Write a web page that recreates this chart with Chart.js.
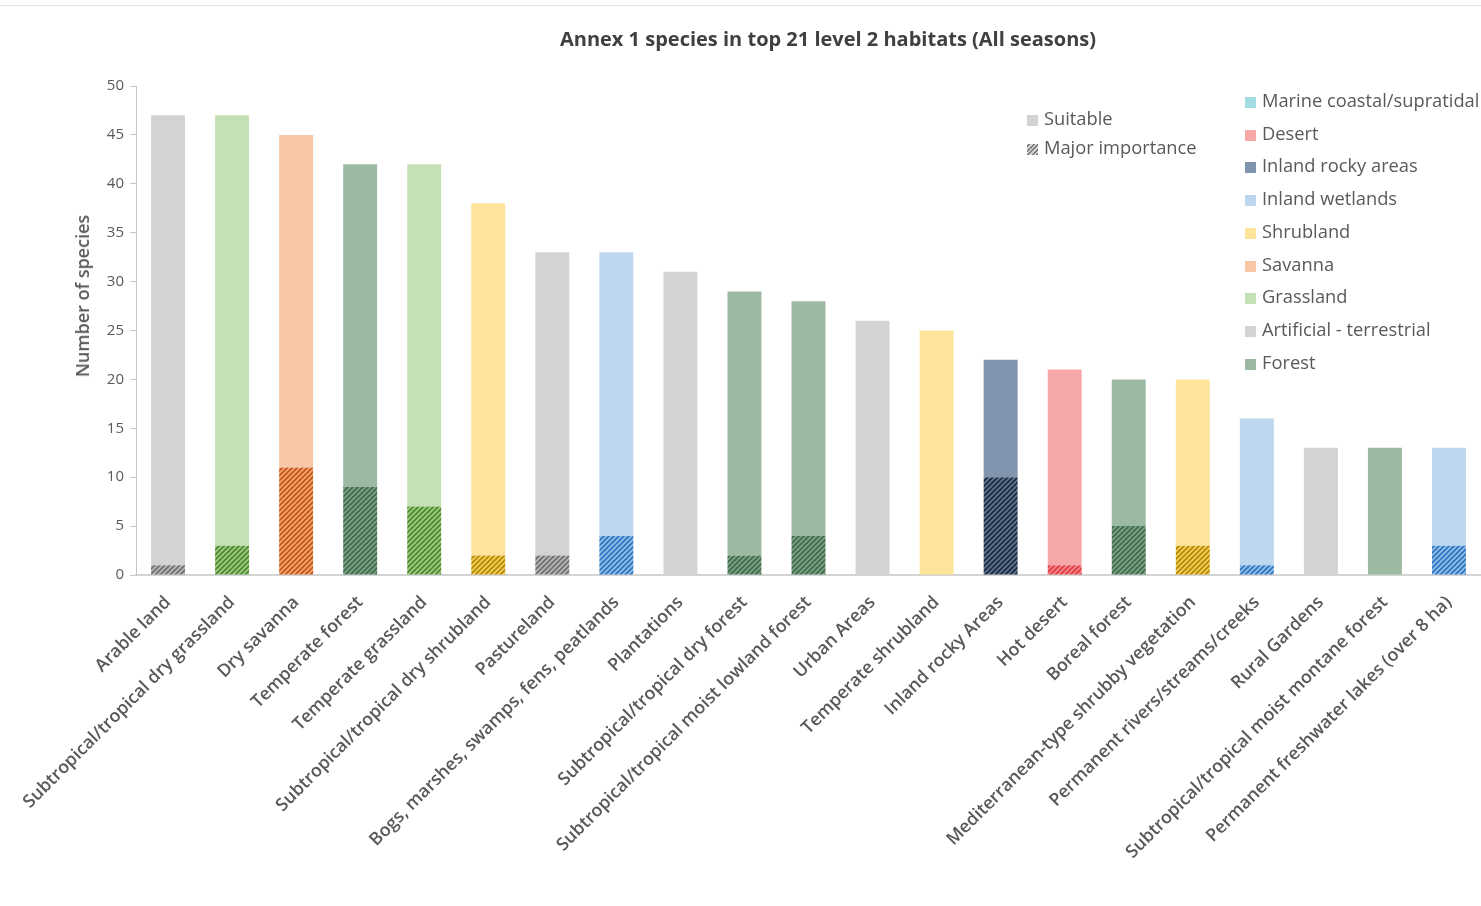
<!DOCTYPE html>
<html>
<head>
<meta charset="utf-8">
<title>Annex 1 species by habitat</title>
<script src="https://cdn.jsdelivr.net/npm/chart.js@4.4.1/dist/chart.umd.min.js"></script>
<style>
    html, body { margin: 0; padding: 0; background: #fff; }
    body { width: 1481px; height: 906px; position: relative; overflow: hidden; font-family: "Open Sans", sans-serif; }
    #topRule { position: absolute; left: 0; top: 5px; width: 1481px; height: 1px; background: #e2e2e2; }
    #chartTitle {
        position: absolute; left: 828px; top: 38px; transform: translate(-50%, -50%);
        font-size: 20px; font-weight: 700; color: #404040; white-space: nowrap;
    }
    #yTitle {
        position: absolute; left: 82px; top: 296px; transform: translate(-50%, -50%) rotate(-90deg);
        font-size: 18px; font-weight: 600; color: #595959; white-space: nowrap;
    }
    .legend { position: absolute; color: #595959; font-size: 18.3px; white-space: nowrap; }
    .legend .item { position: absolute; left: 0; height: 22px; line-height: 22px; transform: translateY(-50%); }
    .legend .box { display: inline-block; width: 11px; height: 11px; margin-right: 6px; vertical-align: -1px; }
    #chartCanvas { position: absolute; left: 0; top: 0; }
</style>
</head>
<body>
<div id="topRule"></div>
<canvas id="chartCanvas" width="1481" height="906"></canvas>
<div id="chartTitle">Annex 1 species in top 21 level 2 habitats (All seasons)</div>
<div id="yTitle">Number of species</div>
<div class="legend" id="kindLegend" style="left:1027px; top:0;"></div>
<div class="legend" id="habitatLegend" style="left:1245px; top:0;"></div>

<script>
// Habitats, ordered by number of species
const categories = [
    'Arable land',
    'Subtropical/tropical dry grassland',
    'Dry savanna',
    'Temperate forest',
    'Temperate grassland',
    'Subtropical/tropical dry shrubland',
    'Pastureland',
    'Bogs, marshes, swamps, fens, peatlands',
    'Plantations',
    'Subtropical/tropical dry forest',
    'Subtropical/tropical moist lowland forest',
    'Urban Areas',
    'Temperate shrubland',
    'Inland rocky Areas',
    'Hot desert',
    'Boreal forest',
    'Mediterranean-type shrubby vegetation',
    'Permanent rivers/streams/creeks',
    'Rural Gardens',
    'Subtropical/tropical moist montane forest',
    'Permanent freshwater lakes (over 8 ha)'
];

// Total species per habitat, and how many of them list it as of major importance
const totalSpecies = [47, 47, 45, 42, 42, 38, 33, 33, 31, 29, 28, 26, 25, 22, 21, 20, 20, 16, 13, 13, 13];
const majorSpecies = [1, 3, 11, 9, 7, 2, 2, 4, 0, 2, 4, 0, 0, 10, 1, 5, 3, 1, 0, 0, 3];

// Level 1 habitat group of each bar
const habitatGroup = [
    'Artificial - terrestrial', 'Grassland', 'Savanna', 'Forest', 'Grassland',
    'Shrubland', 'Artificial - terrestrial', 'Inland wetlands', 'Artificial - terrestrial', 'Forest',
    'Forest', 'Artificial - terrestrial', 'Shrubland', 'Inland rocky areas', 'Desert',
    'Forest', 'Shrubland', 'Inland wetlands', 'Artificial - terrestrial', 'Forest',
    'Inland wetlands'
];

const groupNames = [
    'Marine coastal/supratidal', 'Desert', 'Inland rocky areas', 'Inland wetlands',
    'Shrubland', 'Savanna', 'Grassland', 'Artificial - terrestrial', 'Forest'
];

const yTicks = [0, 5, 10, 15, 20, 25, 30, 35, 40, 45, 50];

// fill, hatch background, hatch stripe
const groupColors = {
    'Marine coastal/supratidal': ['#a3dce3', '#7cc8d2', '#2f9aa8'],
    'Desert':                    ['#f6a7a8', '#f38a8c', '#e2393f'],
    'Inland rocky areas':        ['#8094ae', '#5f7593', '#1e2a3d'],
    'Inland wetlands':           ['#bdd7ee', '#94c0e8', '#2f74c0'],
    'Shrubland':                 ['#fee49a', '#f1cf5e', '#b68a00'],
    'Savanna':                   ['#f7c7a6', '#f3a572', '#c4561a'],
    'Grassland':                 ['#c5e0b4', '#9fcb83', '#4d8a2e'],
    'Artificial - terrestrial':  ['#d3d3d3', '#b8b8b8', '#707070'],
    'Forest':                    ['#9cb9a1', '#7fa386', '#3f6b4b']
};

function makeHatch(bg, fg) {
    const size = 5;
    const c = document.createElement('canvas');
    c.width = c.height = size;
    const x = c.getContext('2d');
    x.fillStyle = bg;
    x.fillRect(0, 0, size, size);
    x.strokeStyle = fg;
    x.lineWidth = 1.8;
    x.beginPath();
    x.moveTo(-1, size + 1); x.lineTo(size + 1, -1);
    x.moveTo(-1, 1); x.lineTo(1, -1);
    x.moveTo(size - 1, size + 1); x.lineTo(size + 1, size - 1);
    x.stroke();
    return x.createPattern(c, 'repeat');
}

const suitableSpecies = totalSpecies.map((t, i) => t - majorSpecies[i]);
const suitableColors = habitatGroup.map(g => groupColors[g][0]);
const majorPatterns = habitatGroup.map(g => makeHatch(groupColors[g][1], groupColors[g][2]));

const TEXT = '#595959';

const chart = new Chart(document.getElementById('chartCanvas'), {
    type: 'bar',
    data: {
        labels: categories,
        datasets: [
            {
                label: 'Major importance',
                data: majorSpecies,
                backgroundColor: majorPatterns,
                borderWidth: 0
            },
            {
                label: 'Suitable',
                data: suitableSpecies,
                backgroundColor: suitableColors,
                borderWidth: 0
            }
        ]
    },
    options: {
        responsive: false,
        animation: false,
        layout: { padding: { top: 86, right: 0, bottom: 0, left: 0 } },
        categoryPercentage: 1,
        barPercentage: 0.53,
        plugins: {
            legend: { display: false },
            title: { display: false },
            tooltip: { enabled: false }
        },
        scales: {
            x: {
                stacked: true,
                grid: { display: false },
                border: { display: true, color: '#d4d4d4', width: 2 },
                ticks: {
                    color: TEXT,
                    autoSkip: false,
                    maxRotation: 45,
                    minRotation: 45,
                    padding: 9,
                    font: { family: '"Open Sans", sans-serif', size: 17.8, weight: '600' }
                },
                afterFit(scale) { scale.height = 906 - 575; }
            },
            y: {
                stacked: true,
                min: 0,
                max: 50,
                afterBuildTicks(scale) { scale.ticks = yTicks.map(v => ({ value: v })); },
                grid: {
                    drawOnChartArea: false,
                    drawTicks: true,
                    tickLength: 6,
                    color: '#c4c4c4'
                },
                border: { display: true, color: '#c4c4c4', width: 1 },
                ticks: {
                    color: TEXT,
                    padding: 6,
                    font: { family: '"Open Sans", sans-serif', size: 15 }
                },
                afterFit(scale) { scale.width = 136; }
            }
        }
    }
});

// Legends
function addItem(container, y, boxStyle, text) {
    const item = document.createElement('div');
    item.className = 'item';
    item.style.top = y + 'px';
    const box = document.createElement('span');
    box.className = 'box';
    Object.assign(box.style, boxStyle);
    item.appendChild(box);
    item.appendChild(document.createTextNode(text));
    container.appendChild(item);
}

const kindLegend = document.getElementById('kindLegend');
addItem(kindLegend, 118, { background: '#d3d3d3' }, 'Suitable');
addItem(kindLegend, 147, {
    background: 'repeating-linear-gradient(-45deg, #7a7a7a 0 1.5px, #d0d0d0 1.5px 3.2px)'
}, 'Major importance');

const habitatLegend = document.getElementById('habitatLegend');
groupNames.forEach((name, i) => {
    addItem(habitatLegend, 100 + i * 32.7, { background: groupColors[name][0] }, name);
});
</script>
</body>
</html>
